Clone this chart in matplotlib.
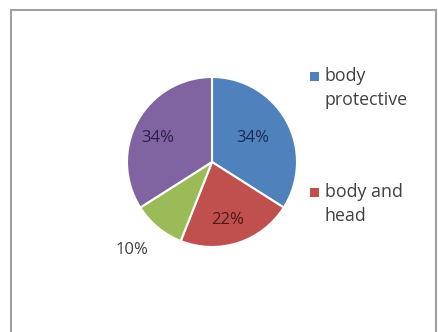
import matplotlib.pyplot as plt
from matplotlib.patches import Rectangle

# 数据
labels = ['body\nprotective', 'body and\nhead', 'other', 'other 2']
shares = [34, 22, 10, 34]
pct_text = ['34%', '22%', '10%', '34%']
colors = ['#4F81BD', '#C0504D', '#9BBB59', '#8064A2']
text_colors = ['#1c2a55', '#4a1a1a', '#404040', '#2a1f4a']

plt.rcParams['font.family'] = ['Open Sans', 'DejaVu Sans']

W, H = 438, 332
fig = plt.figure(figsize=(W / 100, H / 100), dpi=100)
fig.patches.append(Rectangle((11 / W, -0.05), 425 / W, 1.05 - 10 / H,
                             transform=fig.transFigure, fill=False,
                             edgecolor='#a0a0a0', linewidth=1.5))

# 饼图
ax = fig.add_axes([(212 - 85) / W, (H - 162 - 85) / H, 170 / W, 170 / H])
wedges, _ = ax.pie(shares, colors=colors, startangle=90, counterclock=False,
                   wedgeprops=dict(edgecolor='white', linewidth=1.5))
ax.set_xlim(-1, 1)
ax.set_ylim(-1, 1)

# 百分比标签
label_pos = [(0.48, 0.28), (0.18, -0.68), (-0.94, -1.04), (-0.64, 0.28)]
for (x, y), t, c in zip(label_pos, pct_text, text_colors):
    ax.text(x, y, t, ha='center', va='center', fontsize=12, color=c,
            clip_on=False)

# 图例（手动放置，色块与第一行对齐）
legend_y = [76, 192]
for i, y in enumerate(legend_y):
    fig.patches.append(Rectangle(((314 - 4.5) / W, 1 - (y + 4.5) / H), 9 / W, 9 / H,
                                 transform=fig.transFigure,
                                 facecolor=colors[i], edgecolor='none'))
    fig.text(325 / W, 1 - (y - 9) / H, labels[i], ha='left', va='top',
             fontsize=12.8, color='#404040', linespacing=1.4)

fig.savefig('out.png', dpi=100)
